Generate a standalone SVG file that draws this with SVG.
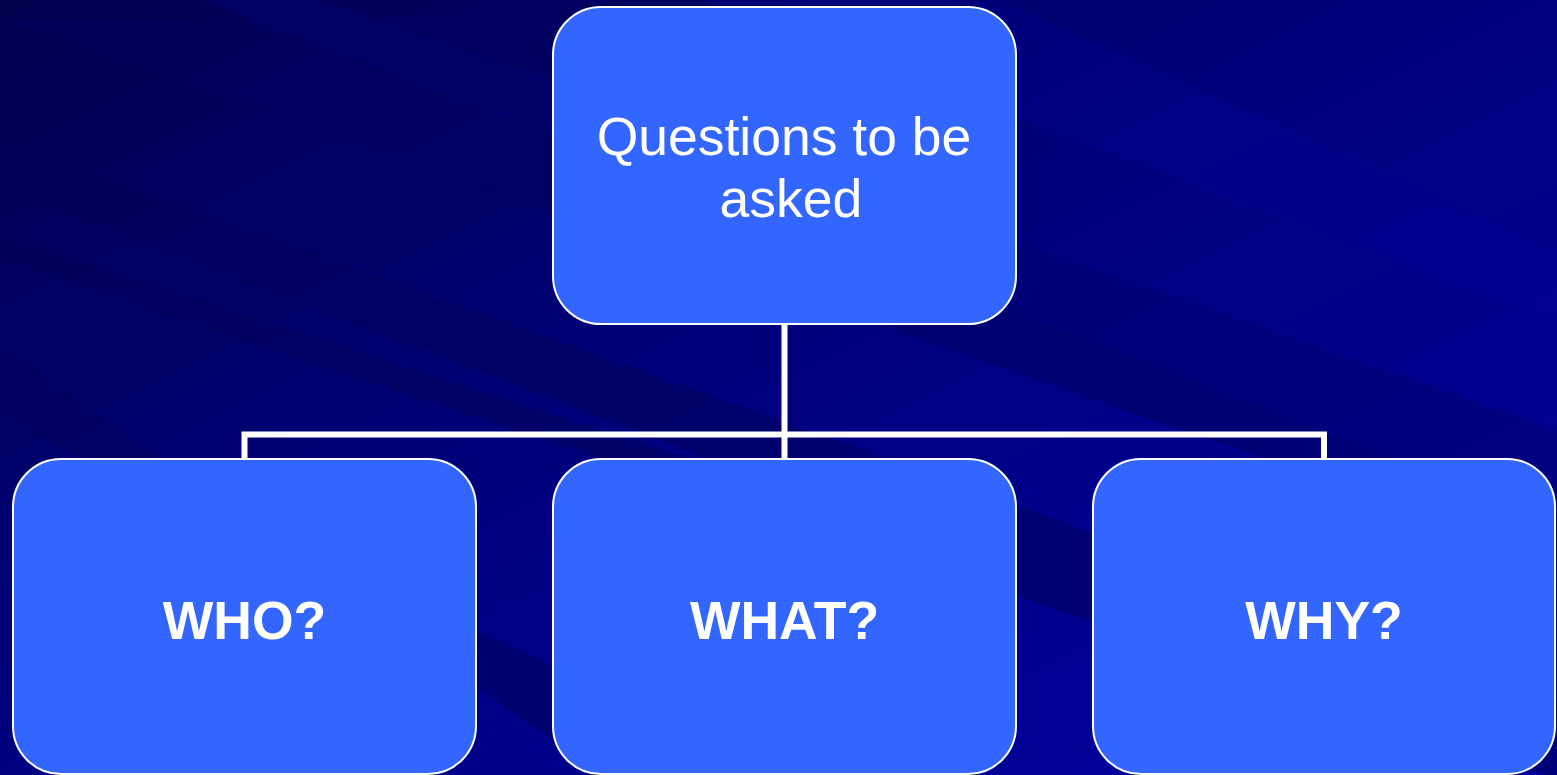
<svg xmlns="http://www.w3.org/2000/svg" width="1557" height="775" viewBox="0 0 1557 775">
<defs>
<linearGradient id="bg" x1="0" y1="0" x2="1" y2="1">
<stop offset="0" stop-color="#00004e"/>
<stop offset="0.5" stop-color="#000080"/>
<stop offset="1" stop-color="#0000a0"/>
</linearGradient>
<style>
.box{fill:#3366ff;stroke:#ffffff;stroke-width:2}
.conn{fill:none;stroke:#ffffff;stroke-width:6}
.t{font-family:"Liberation Sans",Arial,sans-serif;font-size:53.5px;fill:#ffffff;text-anchor:middle}
.b{font-weight:bold}
</style>
</defs>
<rect x="0" y="0" width="1557" height="775" fill="url(#bg)"/>
<g id="streaks" opacity="0.5">
<polygon points="0,20 500,20 1557,480 1557,560" fill="#000060"/>
<polygon points="0,140 0,190 1557,780 1557,700" fill="#00005a"/>
<polygon points="0,235 0,260 1557,775 1557,740" fill="#000058"/>
<polygon points="200,0 320,0 1557,430 1557,520" fill="#000070"/>
<polygon points="700,0 1000,0 1557,250 1557,320" fill="#0000a0" opacity="0.5"/>
<polygon points="0,345 0,420 800,775 600,775" fill="#000058"/>
</g>
<g id="connectors">
<path class="conn" d="M784.5,324 V459 M244.5,459 V434.5 H1324 V459"/>
</g>
<g id="node-top">
<rect class="box" x="553" y="7" width="463" height="317" rx="48" ry="48"/>
<text class="t" x="784" y="155">Questions to be</text>
<text class="t" x="791" y="217">asked</text>
</g>
<g id="node-who">
<rect class="box" x="13" y="459" width="463" height="315" rx="48" ry="48"/>
<text class="t b" x="244.5" y="639">WHO?</text>
</g>
<g id="node-what">
<rect class="box" x="553" y="459" width="463" height="315" rx="48" ry="48"/>
<text class="t b" x="784.5" y="639">WHAT?</text>
</g>
<g id="node-why">
<rect class="box" x="1093" y="459" width="462" height="315" rx="48" ry="48"/>
<text class="t b" x="1324" y="639">WHY?</text>
</g>
</svg>
